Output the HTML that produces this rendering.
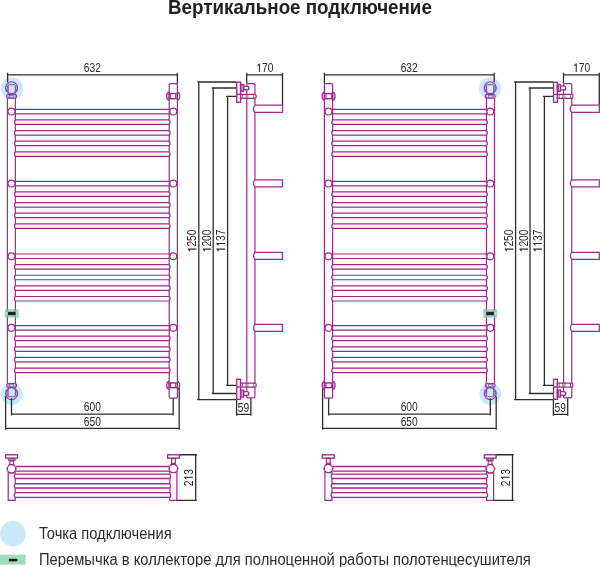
<!DOCTYPE html>
<html><head><meta charset="utf-8"><style>
html,body{margin:0;padding:0;background:#fff;}
body{width:600px;height:567px;overflow:hidden;position:relative;font-family:'Liberation Sans',sans-serif;}
.g{will-change:transform;}
svg{position:absolute;left:0;top:0;}
.t{position:absolute;white-space:nowrap;color:#2b2b2b;line-height:1;}
</style></head><body>
<svg class="g" width="600" height="567" viewBox="0 0 600 567" style="font-family:'Liberation Sans',sans-serif">
<defs>
<g id="front"><circle cx="11.8" cy="88.3" r="11.1" fill="#c9e9f8"/><circle cx="11.6" cy="394.1" r="10.9" fill="#c9e9f8"/><path d="M7.35,98.3V383.5M15.35,98.3V383.5" stroke="#9c2b8a" stroke-width="1.2" fill="none"/><path d="M169.2,99V85.0Q169.2,83.7 170.5,83.7H176.1Q177.4,83.7 177.4,85.0V99" stroke="#9c2b8a" stroke-width="1.2" fill="none"/><g transform="translate(0,481.8) scale(1,-1)"><path d="M169.2,99V85.0Q169.2,83.7 170.5,83.7H176.1Q177.4,83.7 177.4,85.0V99" stroke="#9c2b8a" stroke-width="1.2" fill="none"/></g><path d="M169.2,98V384M177.4,98V384" stroke="#9c2b8a" stroke-width="1.2" fill="none"/><path d="M15.35,109.30H169.2M15.35,113.80H169.2" stroke="#9c2b8a" stroke-width="1.2" fill="none"/><circle cx="11.5" cy="111.55" r="3.45" fill="#fff" stroke="#9c2b8a" stroke-width="1.2"/><circle cx="173.3" cy="111.55" r="3.45" fill="#fff" stroke="#9c2b8a" stroke-width="1.2"/><path d="M16.3,119.92H15.35A3.6,3.6 0 0 0 15.35,124.42H16.3ZM168.25,119.92H169.2A3.6,3.6 0 0 1 169.2,124.42H168.25Z" fill="#fff"/><path d="M15.35,119.92H169.2M15.35,124.42H169.2" stroke="#9c2b8a" stroke-width="1.2" fill="none"/><path d="M15.35,119.92A3.6,3.6 0 0 0 15.35,124.42M169.2,119.92A3.6,3.6 0 0 1 169.2,124.42" stroke="#9c2b8a" stroke-width="1.2" fill="none"/><path d="M16.3,130.54H15.35A3.6,3.6 0 0 0 15.35,135.04H16.3ZM168.25,130.54H169.2A3.6,3.6 0 0 1 169.2,135.04H168.25Z" fill="#fff"/><path d="M15.35,130.54H169.2M15.35,135.04H169.2" stroke="#9c2b8a" stroke-width="1.2" fill="none"/><path d="M15.35,130.54A3.6,3.6 0 0 0 15.35,135.04M169.2,130.54A3.6,3.6 0 0 1 169.2,135.04" stroke="#9c2b8a" stroke-width="1.2" fill="none"/><path d="M16.3,141.16H15.35A3.6,3.6 0 0 0 15.35,145.66H16.3ZM168.25,141.16H169.2A3.6,3.6 0 0 1 169.2,145.66H168.25Z" fill="#fff"/><path d="M15.35,141.16H169.2M15.35,145.66H169.2" stroke="#9c2b8a" stroke-width="1.2" fill="none"/><path d="M15.35,141.16A3.6,3.6 0 0 0 15.35,145.66M169.2,141.16A3.6,3.6 0 0 1 169.2,145.66" stroke="#9c2b8a" stroke-width="1.2" fill="none"/><path d="M16.3,151.78H15.35A3.6,3.6 0 0 0 15.35,156.28H16.3ZM168.25,151.78H169.2A3.6,3.6 0 0 1 169.2,156.28H168.25Z" fill="#fff"/><path d="M15.35,151.78H169.2M15.35,156.28H169.2" stroke="#9c2b8a" stroke-width="1.2" fill="none"/><path d="M15.35,151.78A3.6,3.6 0 0 0 15.35,156.28M169.2,151.78A3.6,3.6 0 0 1 169.2,156.28" stroke="#9c2b8a" stroke-width="1.2" fill="none"/><path d="M15.35,181.30H169.2M15.35,185.80H169.2" stroke="#9c2b8a" stroke-width="1.2" fill="none"/><circle cx="11.5" cy="183.55" r="3.45" fill="#fff" stroke="#9c2b8a" stroke-width="1.2"/><circle cx="173.3" cy="183.55" r="3.45" fill="#fff" stroke="#9c2b8a" stroke-width="1.2"/><path d="M16.3,191.92H15.35A3.6,3.6 0 0 0 15.35,196.42H16.3ZM168.25,191.92H169.2A3.6,3.6 0 0 1 169.2,196.42H168.25Z" fill="#fff"/><path d="M15.35,191.92H169.2M15.35,196.42H169.2" stroke="#9c2b8a" stroke-width="1.2" fill="none"/><path d="M15.35,191.92A3.6,3.6 0 0 0 15.35,196.42M169.2,191.92A3.6,3.6 0 0 1 169.2,196.42" stroke="#9c2b8a" stroke-width="1.2" fill="none"/><path d="M16.3,202.54H15.35A3.6,3.6 0 0 0 15.35,207.04H16.3ZM168.25,202.54H169.2A3.6,3.6 0 0 1 169.2,207.04H168.25Z" fill="#fff"/><path d="M15.35,202.54H169.2M15.35,207.04H169.2" stroke="#9c2b8a" stroke-width="1.2" fill="none"/><path d="M15.35,202.54A3.6,3.6 0 0 0 15.35,207.04M169.2,202.54A3.6,3.6 0 0 1 169.2,207.04" stroke="#9c2b8a" stroke-width="1.2" fill="none"/><path d="M16.3,213.16H15.35A3.6,3.6 0 0 0 15.35,217.66H16.3ZM168.25,213.16H169.2A3.6,3.6 0 0 1 169.2,217.66H168.25Z" fill="#fff"/><path d="M15.35,213.16H169.2M15.35,217.66H169.2" stroke="#9c2b8a" stroke-width="1.2" fill="none"/><path d="M15.35,213.16A3.6,3.6 0 0 0 15.35,217.66M169.2,213.16A3.6,3.6 0 0 1 169.2,217.66" stroke="#9c2b8a" stroke-width="1.2" fill="none"/><path d="M16.3,223.78H15.35A3.6,3.6 0 0 0 15.35,228.28H16.3ZM168.25,223.78H169.2A3.6,3.6 0 0 1 169.2,228.28H168.25Z" fill="#fff"/><path d="M15.35,223.78H169.2M15.35,228.28H169.2" stroke="#9c2b8a" stroke-width="1.2" fill="none"/><path d="M15.35,223.78A3.6,3.6 0 0 0 15.35,228.28M169.2,223.78A3.6,3.6 0 0 1 169.2,228.28" stroke="#9c2b8a" stroke-width="1.2" fill="none"/><path d="M15.35,254.00H169.2M15.35,258.50H169.2" stroke="#9c2b8a" stroke-width="1.2" fill="none"/><circle cx="11.5" cy="256.25" r="3.45" fill="#fff" stroke="#9c2b8a" stroke-width="1.2"/><circle cx="173.3" cy="256.25" r="3.45" fill="#fff" stroke="#9c2b8a" stroke-width="1.2"/><path d="M16.3,264.62H15.35A3.6,3.6 0 0 0 15.35,269.12H16.3ZM168.25,264.62H169.2A3.6,3.6 0 0 1 169.2,269.12H168.25Z" fill="#fff"/><path d="M15.35,264.62H169.2M15.35,269.12H169.2" stroke="#9c2b8a" stroke-width="1.2" fill="none"/><path d="M15.35,264.62A3.6,3.6 0 0 0 15.35,269.12M169.2,264.62A3.6,3.6 0 0 1 169.2,269.12" stroke="#9c2b8a" stroke-width="1.2" fill="none"/><path d="M16.3,275.24H15.35A3.6,3.6 0 0 0 15.35,279.74H16.3ZM168.25,275.24H169.2A3.6,3.6 0 0 1 169.2,279.74H168.25Z" fill="#fff"/><path d="M15.35,275.24H169.2M15.35,279.74H169.2" stroke="#9c2b8a" stroke-width="1.2" fill="none"/><path d="M15.35,275.24A3.6,3.6 0 0 0 15.35,279.74M169.2,275.24A3.6,3.6 0 0 1 169.2,279.74" stroke="#9c2b8a" stroke-width="1.2" fill="none"/><path d="M16.3,285.86H15.35A3.6,3.6 0 0 0 15.35,290.36H16.3ZM168.25,285.86H169.2A3.6,3.6 0 0 1 169.2,290.36H168.25Z" fill="#fff"/><path d="M15.35,285.86H169.2M15.35,290.36H169.2" stroke="#9c2b8a" stroke-width="1.2" fill="none"/><path d="M15.35,285.86A3.6,3.6 0 0 0 15.35,290.36M169.2,285.86A3.6,3.6 0 0 1 169.2,290.36" stroke="#9c2b8a" stroke-width="1.2" fill="none"/><path d="M16.3,296.48H15.35A3.6,3.6 0 0 0 15.35,300.98H16.3ZM168.25,296.48H169.2A3.6,3.6 0 0 1 169.2,300.98H168.25Z" fill="#fff"/><path d="M15.35,296.48H169.2M15.35,300.98H169.2" stroke="#9c2b8a" stroke-width="1.2" fill="none"/><path d="M15.35,296.48A3.6,3.6 0 0 0 15.35,300.98M169.2,296.48A3.6,3.6 0 0 1 169.2,300.98" stroke="#9c2b8a" stroke-width="1.2" fill="none"/><path d="M15.35,325.60H169.2M15.35,330.10H169.2" stroke="#9c2b8a" stroke-width="1.2" fill="none"/><circle cx="11.5" cy="327.85" r="3.45" fill="#fff" stroke="#9c2b8a" stroke-width="1.2"/><circle cx="173.3" cy="327.85" r="3.45" fill="#fff" stroke="#9c2b8a" stroke-width="1.2"/><path d="M16.3,336.22H15.35A3.6,3.6 0 0 0 15.35,340.72H16.3ZM168.25,336.22H169.2A3.6,3.6 0 0 1 169.2,340.72H168.25Z" fill="#fff"/><path d="M15.35,336.22H169.2M15.35,340.72H169.2" stroke="#9c2b8a" stroke-width="1.2" fill="none"/><path d="M15.35,336.22A3.6,3.6 0 0 0 15.35,340.72M169.2,336.22A3.6,3.6 0 0 1 169.2,340.72" stroke="#9c2b8a" stroke-width="1.2" fill="none"/><path d="M16.3,346.84H15.35A3.6,3.6 0 0 0 15.35,351.34H16.3ZM168.25,346.84H169.2A3.6,3.6 0 0 1 169.2,351.34H168.25Z" fill="#fff"/><path d="M15.35,346.84H169.2M15.35,351.34H169.2" stroke="#9c2b8a" stroke-width="1.2" fill="none"/><path d="M15.35,346.84A3.6,3.6 0 0 0 15.35,351.34M169.2,346.84A3.6,3.6 0 0 1 169.2,351.34" stroke="#9c2b8a" stroke-width="1.2" fill="none"/><path d="M16.3,357.46H15.35A3.6,3.6 0 0 0 15.35,361.96H16.3ZM168.25,357.46H169.2A3.6,3.6 0 0 1 169.2,361.96H168.25Z" fill="#fff"/><path d="M15.35,357.46H169.2M15.35,361.96H169.2" stroke="#9c2b8a" stroke-width="1.2" fill="none"/><path d="M15.35,357.46A3.6,3.6 0 0 0 15.35,361.96M169.2,357.46A3.6,3.6 0 0 1 169.2,361.96" stroke="#9c2b8a" stroke-width="1.2" fill="none"/><path d="M16.3,368.08H15.35A3.6,3.6 0 0 0 15.35,372.58H16.3ZM168.25,368.08H169.2A3.6,3.6 0 0 1 169.2,372.58H168.25Z" fill="#fff"/><path d="M15.35,368.08H169.2M15.35,372.58H169.2" stroke="#9c2b8a" stroke-width="1.2" fill="none"/><path d="M15.35,368.08A3.6,3.6 0 0 0 15.35,372.58M169.2,368.08A3.6,3.6 0 0 1 169.2,372.58" stroke="#9c2b8a" stroke-width="1.2" fill="none"/><rect x="169.1" y="93.60" width="8.2" height="5.10" fill="#fff" stroke="#9c2b8a" stroke-width="1.45"/><path d="M169.1,92.25A2.3,3.9 0 0 0 169.1,100.05M177.3,92.25A2.3,3.9 0 0 1 177.3,100.05" stroke="#9c2b8a" stroke-width="1.35" fill="none"/><path d="M170.55,93.60V98.70M175.65,93.60V98.70" stroke="#9c2b8a" stroke-width="1.0" fill="none"/><path d="M169.6,96.15H170.2M176.1,96.15H176.8" stroke="#9c2b8a" stroke-width="2.0" fill="none" opacity="0.4"/><rect x="169.1" y="382.95" width="8.2" height="4.70" fill="#fff" stroke="#9c2b8a" stroke-width="1.45"/><path d="M169.1,381.40A2.3,3.9 0 0 0 169.1,389.20M177.3,381.40A2.3,3.9 0 0 1 177.3,389.20" stroke="#9c2b8a" stroke-width="1.35" fill="none"/><path d="M170.55,382.95V387.65M175.65,382.95V387.65" stroke="#9c2b8a" stroke-width="1.0" fill="none"/><path d="M169.6,385.30H170.2M176.1,385.30H176.8" stroke="#9c2b8a" stroke-width="2.0" fill="none" opacity="0.4"/><circle cx="11.6" cy="87.7" r="5.9" fill="none" stroke="#8a3a9e" stroke-width="1.05"/><path d="M8.15,94.4V85.40Q8.15,84.70 8.85,84.70H14.55Q15.25,84.70 15.25,85.40V94.4" fill="none" stroke="#8a3a9e" stroke-width="0.95"/><ellipse cx="6.75" cy="88.50" rx="1.0" ry="3.2" fill="none" stroke="#8a3a9e" stroke-width="0.75"/><ellipse cx="16.6" cy="88.50" rx="0.9" ry="3.2" fill="none" stroke="#8a3a9e" stroke-width="0.75"/><rect x="6.75" y="94.4" width="9.7" height="3.70" rx="1.2" fill="none" stroke="#8a3a9e" stroke-width="1.05"/><path d="M8.15,94.4V98.1M15.25,94.4V98.1" fill="none" stroke="#8a3a9e" stroke-width="0.65"/><rect x="9.3" y="95.30" width="4.1" height="1.90" fill="none" stroke="#8a3a9e" stroke-width="0.6"/><circle cx="11.6" cy="393.7" r="5.9" fill="none" stroke="#8a3a9e" stroke-width="1.05"/><path d="M8.15,387.2V396.00Q8.15,396.70 8.85,396.70H14.55Q15.25,396.70 15.25,396.00V387.2" fill="none" stroke="#8a3a9e" stroke-width="0.95"/><ellipse cx="6.75" cy="392.90" rx="1.0" ry="3.2" fill="none" stroke="#8a3a9e" stroke-width="0.75"/><ellipse cx="16.6" cy="392.90" rx="0.9" ry="3.2" fill="none" stroke="#8a3a9e" stroke-width="0.75"/><rect x="6.75" y="383.5" width="9.7" height="3.70" rx="1.2" fill="none" stroke="#8a3a9e" stroke-width="1.05"/><path d="M8.15,383.5V387.2M15.25,383.5V387.2" fill="none" stroke="#8a3a9e" stroke-width="0.65"/><rect x="9.3" y="384.40" width="4.1" height="1.90" fill="none" stroke="#8a3a9e" stroke-width="0.6"/><rect x="4.8" y="309.1" width="14" height="8.7" fill="#a0dcbd"/><rect x="7.9" y="311.8" width="7.7" height="3.4" fill="#222"/><path d="M7.35,309.1V311.8M15.35,309.1V311.8M7.35,315.2V317.8M15.35,315.2V317.8" stroke="#9c2b8a" stroke-width="1.2" fill="none" opacity="0.5"/><path d="M7.6,72.8V82.3M7.6,74.85H177.4M177.4,72.8V83.7" stroke="#2e2e2e" stroke-width="1.3" fill="none"/><path d="M11.5,398.3V415.6M11.3,414.15H173.2M173.2,398.4V415.6" stroke="#2e2e2e" stroke-width="1.3" fill="none"/><path d="M5.6,396.3V429.7M5.6,428.3H179.2M179.2,388.3V429.7" stroke="#2e2e2e" stroke-width="1.3" fill="none"/></g>
<g id="bview"><rect x="5.7" y="454.8" width="11.8" height="3.3" fill="none" stroke="#9c2b8a" stroke-width="1.35"/><rect x="167.6" y="454.8" width="11.8" height="3.3" fill="none" stroke="#9c2b8a" stroke-width="1.35"/><rect x="8.1" y="458.5" width="7.5" height="2.6" fill="#9c2b8a" opacity="0.85"/><circle cx="9.9" cy="459.8" r="0.6" fill="#fff" opacity="0.6"/><circle cx="12.3" cy="459.8" r="0.6" fill="#fff" opacity="0.6"/><rect x="9.85" y="461.1" width="3.7" height="3.4" fill="#fff" stroke="#9c2b8a" stroke-width="1.1"/><rect x="171.6" y="458.5" width="3.7" height="4.9" fill="#fff" stroke="#9c2b8a" stroke-width="1.2"/><path d="M8.2,471V500.3H15.2V471" fill="none" stroke="#9c2b8a" stroke-width="1.2"/><path d="M169.8,471V500.3H176.9V471" fill="none" stroke="#9c2b8a" stroke-width="1.2"/><path d="M6.40,468.8L9.00,464.20H14.00L16.60,468.8L14.00,473.40H9.00Z" fill="#9c2b8a" stroke="#9c2b8a" stroke-width="0.4" stroke-linejoin="round"/><circle cx="11.5" cy="468.8" r="3.55" fill="#fff"/><path d="M168.30,468.5L170.90,463.90H175.90L178.50,468.5L175.90,473.10H170.90Z" fill="#9c2b8a" stroke="#9c2b8a" stroke-width="0.4" stroke-linejoin="round"/><circle cx="173.4" cy="468.5" r="3.55" fill="#fff"/><path d="M15.6,466.50H169.4M15.6,471.10H169.4" stroke="#9c2b8a" stroke-width="1.35" fill="none"/><path d="M16.1,474.10H15.2A3.6,3.6 0 0 0 15.2,478.50H16.1ZM168.9,474.10H169.8A3.6,3.6 0 0 1 169.8,478.50H168.9Z" fill="#fff"/><path d="M15.2,474.10H169.8M15.2,478.50H169.8" stroke="#9c2b8a" stroke-width="1.35" fill="none"/><path d="M15.2,474.10A3.6,3.6 0 0 0 15.2,478.50M169.8,474.10A3.6,3.6 0 0 1 169.8,478.50" stroke="#9c2b8a" stroke-width="1.2" fill="none"/><path d="M16.1,483.70H15.2A3.6,3.6 0 0 0 15.2,488.00H16.1ZM168.9,483.70H169.8A3.6,3.6 0 0 1 169.8,488.00H168.9Z" fill="#fff"/><path d="M15.2,483.70H169.8M15.2,488.00H169.8" stroke="#9c2b8a" stroke-width="1.35" fill="none"/><path d="M15.2,483.70A3.6,3.6 0 0 0 15.2,488.00M169.8,483.70A3.6,3.6 0 0 1 169.8,488.00" stroke="#9c2b8a" stroke-width="1.2" fill="none"/><path d="M16.1,492.60H15.2A3.6,3.6 0 0 0 15.2,497.40H16.1ZM168.9,492.60H169.8A3.6,3.6 0 0 1 169.8,497.40H168.9Z" fill="#fff"/><path d="M15.2,492.60H169.8M15.2,497.40H169.8" stroke="#9c2b8a" stroke-width="1.35" fill="none"/><path d="M15.2,492.60A3.6,3.6 0 0 0 15.2,497.40M169.8,492.60A3.6,3.6 0 0 1 169.8,497.40" stroke="#9c2b8a" stroke-width="1.2" fill="none"/></g>
<g id="side"><path d="M197.3,82H236.3M198.8,82V399.6M197.3,399.6H236.3" stroke="#2e2e2e" stroke-width="1.3" fill="none"/><path d="M211.8,88H236.3M213.2,88V393.5M211.8,393.5H236.3" stroke="#2e2e2e" stroke-width="1.3" fill="none"/><path d="M226.2,96.3H236.3M227.6,96.3V385.3M226.2,385.3H236.3" stroke="#2e2e2e" stroke-width="1.3" fill="none"/><path d="M246.7,72.8V83.5M246.7,74.85H282.5M282.5,72.8V105.2" stroke="#2e2e2e" stroke-width="1.3" fill="none"/><path d="M236.6,400V415.8M236.6,414.4H250.9M250.9,398.3V415.8" stroke="#2e2e2e" stroke-width="1.3" fill="none"/><path d="M246.8,397.8V85Q246.8,83.7 248.1,83.7H253.65Q254.95,83.7 254.95,85V396.5Q254.95,397.8 253.65,397.8H248.1Q246.8,397.8 246.8,396.5Z" fill="none" stroke="#9c2b8a" stroke-width="1.2"/><path d="M254.85,105.1H282.5V112.3H254.85A5.7,5.7 0 0 1 254.85,105.1Z" fill="#fff" stroke="#9c2b8a" stroke-width="1.2"/><path d="M254.85,179.9H282.5V186.95H254.85A5.7,5.7 0 0 1 254.85,179.9Z" fill="#fff" stroke="#9c2b8a" stroke-width="1.2"/><path d="M254.85,252.4H282.5V259.35H254.85A5.7,5.7 0 0 1 254.85,252.4Z" fill="#fff" stroke="#9c2b8a" stroke-width="1.2"/><path d="M254.85,324.4H282.5V331.35H254.85A5.7,5.7 0 0 1 254.85,324.4Z" fill="#fff" stroke="#9c2b8a" stroke-width="1.2"/><rect x="236.75" y="82.2" width="3.8" height="20.1" fill="#fff" stroke="#9c2b8a" stroke-width="1.35"/><path d="M236.75,94.4H240.55" stroke="#9c2b8a" stroke-width="1.35"/><path d="M243.6,86.1H246.9A2,1.9 0 0 1 246.9,89.9H243.6Z" fill="#fff" stroke="#9c2b8a" stroke-width="1.35"/><rect x="240.55" y="84.5" width="3.05" height="6.8" fill="#fff" stroke="#9c2b8a" stroke-width="1.35"/><path d="M241.9,84.5V91.3" fill="none" stroke="#9c2b8a" stroke-width="1.0"/><path d="M240.55,94.4H255.0A1.2,1.95 0 0 1 255.0,98.3H240.55Z" fill="#fff" stroke="#9c2b8a" stroke-width="1.3"/><path d="M242.9,94.4Q241.5,96.35 242.9,98.3M245.6,94.4Q247.0,96.35 245.6,98.3M253.7,94.4V98.3" fill="none" stroke="#9c2b8a" stroke-width="0.9"/><rect x="246.6" y="94.4" width="2.1" height="3.9" fill="#9c2b8a" opacity="0.45"/><g transform="translate(0,481.5) scale(1,-1)"><rect x="236.75" y="82.2" width="3.8" height="20.1" fill="#fff" stroke="#9c2b8a" stroke-width="1.35"/><path d="M236.75,94.4H240.55" stroke="#9c2b8a" stroke-width="1.35"/><path d="M243.6,86.1H246.9A2,1.9 0 0 1 246.9,89.9H243.6Z" fill="#fff" stroke="#9c2b8a" stroke-width="1.35"/><rect x="240.55" y="84.5" width="3.05" height="6.8" fill="#fff" stroke="#9c2b8a" stroke-width="1.35"/><path d="M241.9,84.5V91.3" fill="none" stroke="#9c2b8a" stroke-width="1.0"/><path d="M240.55,94.4H255.0A1.2,1.95 0 0 1 255.0,98.3H240.55Z" fill="#fff" stroke="#9c2b8a" stroke-width="1.3"/><path d="M242.9,94.4Q241.5,96.35 242.9,98.3M245.6,94.4Q247.0,96.35 245.6,98.3M253.7,94.4V98.3" fill="none" stroke="#9c2b8a" stroke-width="0.9"/><rect x="246.6" y="94.4" width="2.1" height="3.9" fill="#9c2b8a" opacity="0.45"/></g></g>
</defs>
<use href="#front"/>
<use href="#front" transform="translate(501.8,0) scale(-1,1)"/>
<use href="#bview"/>
<use href="#bview" transform="translate(501.8,0) scale(-1,1)"/>
<path d="M179.6,454.75H196.9M195.7,454.75V500.3M177,500.3H196.9" stroke="#2e2e2e" stroke-width="1.3" fill="none"/>
<g transform="translate(316.8,0)"><path d="M179.6,454.75H196.9M195.7,454.75V500.3M177,500.3H196.9" stroke="#2e2e2e" stroke-width="1.3" fill="none"/></g>
<use href="#side"/>
<use href="#side" transform="translate(316.8,0)"/>
<g transform="translate(92.4,71.9)"><text transform="translate(-5.70,0) scale(0.82,1)" text-anchor="middle" font-size="12.5" fill="#2a2a2a">6</text><text transform="translate(0.00,0) scale(0.82,1)" text-anchor="middle" font-size="12.5" fill="#2a2a2a">3</text><text transform="translate(5.70,0) scale(0.82,1)" text-anchor="middle" font-size="12.5" fill="#2a2a2a">2</text></g><g transform="translate(92.4,411.0)"><text transform="translate(-5.70,0) scale(0.82,1)" text-anchor="middle" font-size="12.5" fill="#2a2a2a">6</text><text transform="translate(0.00,0) scale(0.82,1)" text-anchor="middle" font-size="12.5" fill="#2a2a2a">0</text><text transform="translate(5.70,0) scale(0.82,1)" text-anchor="middle" font-size="12.5" fill="#2a2a2a">0</text></g><g transform="translate(92.4,425.7)"><text transform="translate(-5.70,0) scale(0.82,1)" text-anchor="middle" font-size="12.5" fill="#2a2a2a">6</text><text transform="translate(0.00,0) scale(0.82,1)" text-anchor="middle" font-size="12.5" fill="#2a2a2a">5</text><text transform="translate(5.70,0) scale(0.82,1)" text-anchor="middle" font-size="12.5" fill="#2a2a2a">0</text></g><g transform="translate(264.8,72.0)"><path d="M-5.36,0.1V-8.55M-5.01,-8.45L-7.36,-6.35" stroke="#2a2a2a" stroke-width="1.05" fill="none"/><text transform="translate(0.00,0) scale(0.82,1)" text-anchor="middle" font-size="12.5" fill="#2a2a2a">7</text><text transform="translate(5.70,0) scale(0.82,1)" text-anchor="middle" font-size="12.5" fill="#2a2a2a">0</text></g><g transform="translate(243.4,411.6)"><text transform="translate(-2.85,0) scale(0.82,1)" text-anchor="middle" font-size="12.5" fill="#2a2a2a">5</text><text transform="translate(2.85,0) scale(0.82,1)" text-anchor="middle" font-size="12.5" fill="#2a2a2a">9</text></g><g transform="translate(196.4,240.9) rotate(-90)"><path d="M-8.21,0.1V-8.55M-7.86,-8.45L-10.21,-6.35" stroke="#2a2a2a" stroke-width="1.05" fill="none"/><text transform="translate(-2.85,0) scale(0.82,1)" text-anchor="middle" font-size="12.5" fill="#2a2a2a">2</text><text transform="translate(2.85,0) scale(0.82,1)" text-anchor="middle" font-size="12.5" fill="#2a2a2a">5</text><text transform="translate(8.55,0) scale(0.82,1)" text-anchor="middle" font-size="12.5" fill="#2a2a2a">0</text></g><g transform="translate(211.2,240.9) rotate(-90)"><path d="M-8.21,0.1V-8.55M-7.86,-8.45L-10.21,-6.35" stroke="#2a2a2a" stroke-width="1.05" fill="none"/><text transform="translate(-2.85,0) scale(0.82,1)" text-anchor="middle" font-size="12.5" fill="#2a2a2a">2</text><text transform="translate(2.85,0) scale(0.82,1)" text-anchor="middle" font-size="12.5" fill="#2a2a2a">0</text><text transform="translate(8.55,0) scale(0.82,1)" text-anchor="middle" font-size="12.5" fill="#2a2a2a">0</text></g><g transform="translate(225.0,240.9) rotate(-90)"><path d="M-8.21,0.1V-8.55M-7.86,-8.45L-10.21,-6.35" stroke="#2a2a2a" stroke-width="1.05" fill="none"/><path d="M-2.51,0.1V-8.55M-2.16,-8.45L-4.51,-6.35" stroke="#2a2a2a" stroke-width="1.05" fill="none"/><text transform="translate(2.85,0) scale(0.82,1)" text-anchor="middle" font-size="12.5" fill="#2a2a2a">3</text><text transform="translate(8.55,0) scale(0.82,1)" text-anchor="middle" font-size="12.5" fill="#2a2a2a">7</text></g><g transform="translate(192.8,477.6) rotate(-90)"><text transform="translate(-5.70,0) scale(0.82,1)" text-anchor="middle" font-size="12.5" fill="#2a2a2a">2</text><path d="M0.34,0.1V-8.55M0.69,-8.45L-1.66,-6.35" stroke="#2a2a2a" stroke-width="1.05" fill="none"/><text transform="translate(5.70,0) scale(0.82,1)" text-anchor="middle" font-size="12.5" fill="#2a2a2a">3</text></g><g transform="translate(409.20000000000005,71.9)"><text transform="translate(-5.70,0) scale(0.82,1)" text-anchor="middle" font-size="12.5" fill="#2a2a2a">6</text><text transform="translate(0.00,0) scale(0.82,1)" text-anchor="middle" font-size="12.5" fill="#2a2a2a">3</text><text transform="translate(5.70,0) scale(0.82,1)" text-anchor="middle" font-size="12.5" fill="#2a2a2a">2</text></g><g transform="translate(409.20000000000005,411.0)"><text transform="translate(-5.70,0) scale(0.82,1)" text-anchor="middle" font-size="12.5" fill="#2a2a2a">6</text><text transform="translate(0.00,0) scale(0.82,1)" text-anchor="middle" font-size="12.5" fill="#2a2a2a">0</text><text transform="translate(5.70,0) scale(0.82,1)" text-anchor="middle" font-size="12.5" fill="#2a2a2a">0</text></g><g transform="translate(409.20000000000005,425.7)"><text transform="translate(-5.70,0) scale(0.82,1)" text-anchor="middle" font-size="12.5" fill="#2a2a2a">6</text><text transform="translate(0.00,0) scale(0.82,1)" text-anchor="middle" font-size="12.5" fill="#2a2a2a">5</text><text transform="translate(5.70,0) scale(0.82,1)" text-anchor="middle" font-size="12.5" fill="#2a2a2a">0</text></g><g transform="translate(581.6,72.0)"><path d="M-5.36,0.1V-8.55M-5.01,-8.45L-7.36,-6.35" stroke="#2a2a2a" stroke-width="1.05" fill="none"/><text transform="translate(0.00,0) scale(0.82,1)" text-anchor="middle" font-size="12.5" fill="#2a2a2a">7</text><text transform="translate(5.70,0) scale(0.82,1)" text-anchor="middle" font-size="12.5" fill="#2a2a2a">0</text></g><g transform="translate(560.2,411.6)"><text transform="translate(-2.85,0) scale(0.82,1)" text-anchor="middle" font-size="12.5" fill="#2a2a2a">5</text><text transform="translate(2.85,0) scale(0.82,1)" text-anchor="middle" font-size="12.5" fill="#2a2a2a">9</text></g><g transform="translate(513.2,240.9) rotate(-90)"><path d="M-8.21,0.1V-8.55M-7.86,-8.45L-10.21,-6.35" stroke="#2a2a2a" stroke-width="1.05" fill="none"/><text transform="translate(-2.85,0) scale(0.82,1)" text-anchor="middle" font-size="12.5" fill="#2a2a2a">2</text><text transform="translate(2.85,0) scale(0.82,1)" text-anchor="middle" font-size="12.5" fill="#2a2a2a">5</text><text transform="translate(8.55,0) scale(0.82,1)" text-anchor="middle" font-size="12.5" fill="#2a2a2a">0</text></g><g transform="translate(528.0,240.9) rotate(-90)"><path d="M-8.21,0.1V-8.55M-7.86,-8.45L-10.21,-6.35" stroke="#2a2a2a" stroke-width="1.05" fill="none"/><text transform="translate(-2.85,0) scale(0.82,1)" text-anchor="middle" font-size="12.5" fill="#2a2a2a">2</text><text transform="translate(2.85,0) scale(0.82,1)" text-anchor="middle" font-size="12.5" fill="#2a2a2a">0</text><text transform="translate(8.55,0) scale(0.82,1)" text-anchor="middle" font-size="12.5" fill="#2a2a2a">0</text></g><g transform="translate(541.8,240.9) rotate(-90)"><path d="M-8.21,0.1V-8.55M-7.86,-8.45L-10.21,-6.35" stroke="#2a2a2a" stroke-width="1.05" fill="none"/><path d="M-2.51,0.1V-8.55M-2.16,-8.45L-4.51,-6.35" stroke="#2a2a2a" stroke-width="1.05" fill="none"/><text transform="translate(2.85,0) scale(0.82,1)" text-anchor="middle" font-size="12.5" fill="#2a2a2a">3</text><text transform="translate(8.55,0) scale(0.82,1)" text-anchor="middle" font-size="12.5" fill="#2a2a2a">7</text></g><g transform="translate(509.6,477.6) rotate(-90)"><text transform="translate(-5.70,0) scale(0.82,1)" text-anchor="middle" font-size="12.5" fill="#2a2a2a">2</text><path d="M0.34,0.1V-8.55M0.69,-8.45L-1.66,-6.35" stroke="#2a2a2a" stroke-width="1.05" fill="none"/><text transform="translate(5.70,0) scale(0.82,1)" text-anchor="middle" font-size="12.5" fill="#2a2a2a">3</text></g>
<circle cx="12.9" cy="533.7" r="12.8" fill="#c9e9f8"/>
<rect x="0" y="554.7" width="25.7" height="9.9" fill="#a0dcbd"/>
<rect x="8.9" y="558.8" width="8.4" height="2.5" fill="#1a1a1a"/>
</svg>
<div class="t g" style="left:168.3px;top:-1.6px;font-size:18.8px;font-weight:bold;color:#222;transform:scale(1,1.045);transform-origin:0 0;">Вертикальное подключение</div>
<div class="t g" style="left:38.8px;top:526px;font-size:14.7px;transform:scale(1,1.07);transform-origin:0 0;">Точка подключения</div>
<div class="t g" style="left:38.8px;top:551.8px;font-size:14.76px;transform:scale(1,1.07);transform-origin:0 0;">Перемычка в коллекторе для полноценной работы полотенцесушителя</div>
</body></html>
